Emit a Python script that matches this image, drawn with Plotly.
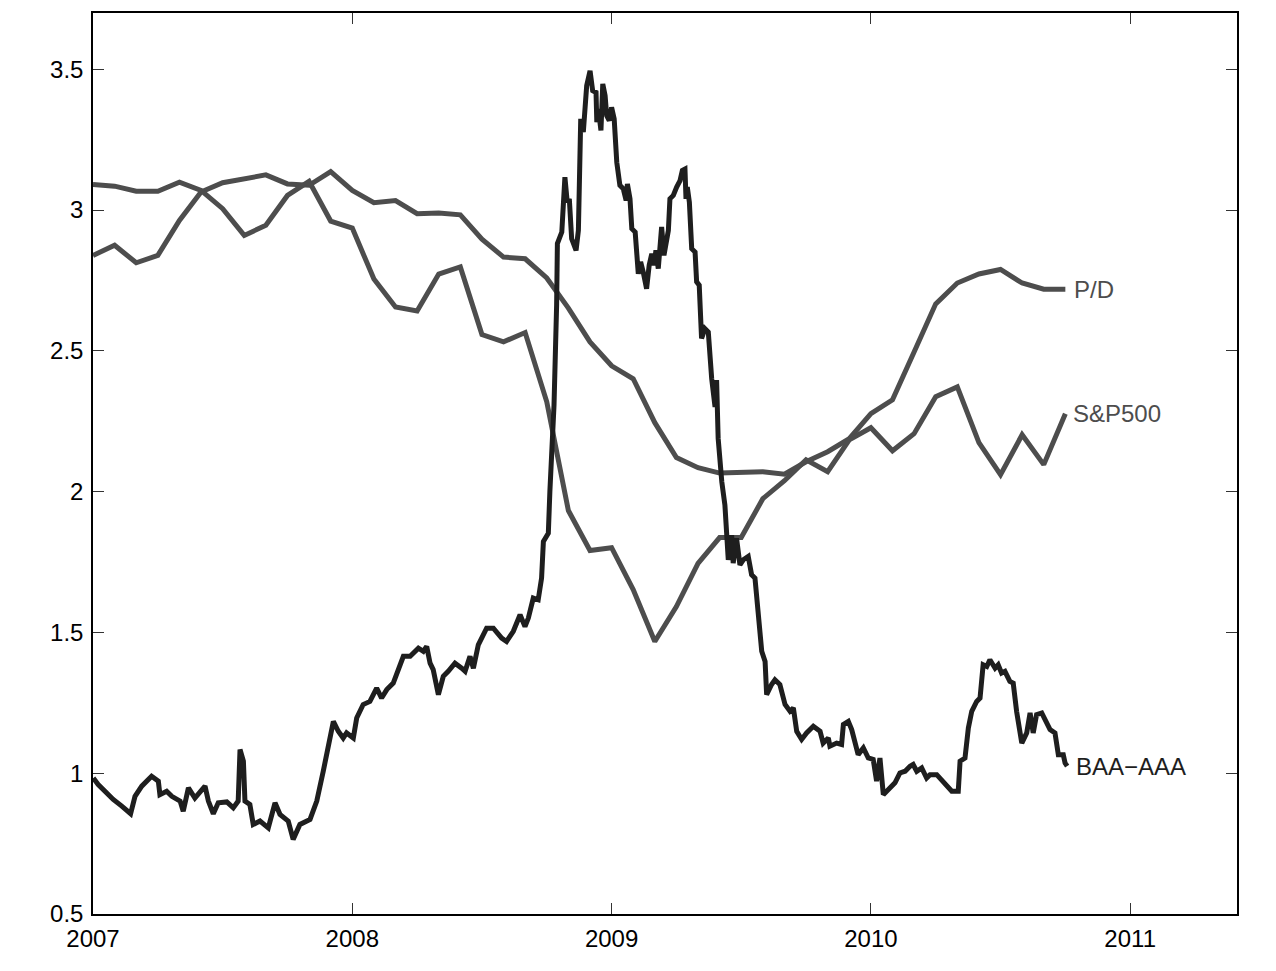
import plotly.graph_objects as go

# Monthly series (Jan 2007 .. Oct 2010)
months_n = 46
pd_ratio = [2.839, 2.875, 2.813, 2.839, 2.963, 3.064, 3.097, 3.111, 3.125, 3.093,
            3.088, 3.137, 3.070, 3.026, 3.034, 2.987, 2.990, 2.983, 2.897, 2.833,
            2.827, 2.759, 2.652, 2.532, 2.447, 2.401, 2.245, 2.121, 2.085, 2.066,
            2.067, 2.071, 2.062, 2.106, 2.142, 2.188, 2.277, 2.326, 2.496, 2.667,
            2.741, 2.773, 2.789, 2.741, 2.719, 2.719]
sp500 = [3.091, 3.085, 3.067, 3.067, 3.099, 3.070, 3.005, 2.910, 2.946, 3.052,
         3.102, 2.961, 2.936, 2.755, 2.656, 2.642, 2.773, 2.798, 2.558, 2.532,
         2.565, 2.319, 1.933, 1.791, 1.801, 1.652, 1.468, 1.592, 1.745, 1.837,
         1.837, 1.975, 2.039, 2.113, 2.071, 2.184, 2.227, 2.145, 2.206, 2.337,
         2.372, 2.174, 2.060, 2.202, 2.096, 2.277]
month_t = [2007 + i / 12 for i in range(months_n)]

# BAA-AAA spread (years since start of 2007, value)
baa_off = [0.001, 0.020, 0.053, 0.078, 0.111, 0.145, 0.162, 0.188, 0.226, 0.252,
           0.258, 0.284, 0.304, 0.336, 0.348, 0.368, 0.393, 0.432, 0.445, 0.464,
           0.483, 0.516, 0.541, 0.560, 0.567, 0.580, 0.586, 0.605, 0.618, 0.644,
           0.676, 0.702, 0.721, 0.753, 0.772, 0.798, 0.837, 0.863, 0.888, 0.907,
           0.927, 0.946, 0.965, 0.978, 1.004, 1.017, 1.042, 1.068, 1.094, 1.113,
           1.133, 1.158, 1.184, 1.197, 1.223, 1.255, 1.274, 1.287, 1.300, 1.312,
           1.332, 1.351, 1.370, 1.396, 1.422, 1.435, 1.454, 1.467, 1.486, 1.518,
           1.544, 1.576, 1.595, 1.621, 1.647, 1.666, 1.679, 1.698, 1.717, 1.730,
           1.737, 1.756, 1.762, 1.775, 1.778, 1.788, 1.791, 1.808, 1.814, 1.820,
           1.829, 1.837, 1.846, 1.863, 1.872, 1.881, 1.891, 1.897, 1.904, 1.917,
           1.927, 1.940, 1.943, 1.949, 1.959, 1.966, 1.975, 1.981, 1.991, 2.000,
           2.010, 2.020, 2.032, 2.045, 2.056, 2.061, 2.071, 2.078, 2.091, 2.103,
           2.112, 2.122, 2.135, 2.145, 2.155, 2.164, 2.171, 2.180, 2.193, 2.202,
           2.219, 2.225, 2.238, 2.251, 2.264, 2.273, 2.283, 2.287, 2.292, 2.300,
           2.309, 2.322, 2.328, 2.338, 2.347, 2.360, 2.373, 2.386, 2.399, 2.405,
           2.411, 2.425, 2.437, 2.450, 2.463, 2.469, 2.482, 2.495, 2.508, 2.527,
           2.540, 2.553, 2.566, 2.579, 2.592, 2.598, 2.617, 2.630, 2.649, 2.669,
           2.688, 2.701, 2.714, 2.733, 2.752, 2.778, 2.804, 2.816, 2.836, 2.842,
           2.868, 2.887, 2.894, 2.913, 2.926, 2.939, 2.951, 2.971, 2.990, 3.009,
           3.022, 3.035, 3.048, 3.061, 3.074, 3.093, 3.112, 3.132, 3.151, 3.163,
           3.177, 3.196, 3.215, 3.228, 3.254, 3.279, 3.292, 3.312, 3.337, 3.344,
           3.363, 3.376, 3.389, 3.408, 3.421, 3.433, 3.447, 3.459, 3.479, 3.491,
           3.504, 3.517, 3.536, 3.549, 3.562, 3.582, 3.601, 3.614, 3.626, 3.639,
           3.659, 3.678, 3.691, 3.710, 3.723, 3.742, 3.749, 3.757]
baa_aaa = [0.983, 0.960, 0.930, 0.907, 0.883, 0.856, 0.918, 0.954, 0.989, 0.972,
           0.924, 0.936, 0.918, 0.901, 0.865, 0.948, 0.912, 0.954, 0.901, 0.856,
           0.895, 0.898, 0.877, 0.901, 1.084, 1.043, 0.901, 0.889, 0.818, 0.830,
           0.806, 0.895, 0.854, 0.830, 0.765, 0.818, 0.836, 0.901, 1.007, 1.102,
           1.184, 1.149, 1.125, 1.143, 1.125, 1.196, 1.244, 1.255, 1.302, 1.267,
           1.297, 1.320, 1.379, 1.415, 1.415, 1.444, 1.433, 1.450, 1.391, 1.368,
           1.279, 1.344, 1.362, 1.391, 1.373, 1.362, 1.415, 1.373, 1.456, 1.515,
           1.515, 1.480, 1.468, 1.504, 1.563, 1.521, 1.551, 1.622, 1.616, 1.693,
           1.823, 1.852, 2.000, 2.213, 2.307, 2.662, 2.881, 2.922, 3.064, 3.117,
           3.028, 3.040, 2.898, 2.857, 2.928, 3.324, 3.277, 3.336, 3.442, 3.495,
           3.424, 3.418, 3.312, 3.359, 3.283, 3.448, 3.407, 3.336, 3.318, 3.365,
           3.324, 3.170, 3.088, 3.076, 3.034, 3.093, 3.040, 2.934, 2.922, 2.774,
           2.816, 2.780, 2.721, 2.804, 2.845, 2.804, 2.857, 2.792, 2.940, 2.839,
           2.928, 3.040, 3.052, 3.082, 3.105, 3.141, 3.146, 3.040, 3.082, 3.028,
           2.863, 2.851, 2.745, 2.733, 2.544, 2.579, 2.567, 2.402, 2.301, 2.396,
           2.189, 2.035, 1.953, 1.758, 1.846, 1.746, 1.834, 1.740, 1.758, 1.770,
           1.705, 1.693, 1.574, 1.433, 1.397, 1.279, 1.315, 1.332, 1.315, 1.244,
           1.220, 1.232, 1.149, 1.120, 1.143, 1.167, 1.149, 1.107, 1.125, 1.096,
           1.107, 1.102, 1.173, 1.184, 1.155, 1.102, 1.066, 1.090, 1.054, 1.049,
           0.972, 1.054, 0.924, 0.936, 0.948, 0.966, 1.001, 1.007, 1.025, 1.031,
           1.007, 1.019, 0.983, 0.995, 0.995, 0.972, 0.954, 0.936, 0.936, 1.043,
           1.054, 1.161, 1.220, 1.255, 1.267, 1.385, 1.379, 1.403, 1.373, 1.385,
           1.356, 1.362, 1.326, 1.320, 1.220, 1.107, 1.143, 1.214, 1.143, 1.208,
           1.214, 1.184, 1.155, 1.143, 1.066, 1.066, 1.036, 1.025]
baa_t = [2007 + v for v in baa_off]

x_ticks = [2007, 2008, 2009, 2010, 2011]
y_ticks = [0.5, 1, 1.5, 2, 2.5, 3, 3.5]
y_ticktext = ["0.5", "1", "1.5", "2", "2.5", "3", "3.5"]

GRAY = "#4d4d4d"
DARK = "#1e1e1e"
FONT = "Liberation Sans, Arial, Helvetica, sans-serif"

fig = go.Figure()
fig.add_trace(go.Scatter(x=month_t, y=pd_ratio, mode="lines",
                         line=dict(color=GRAY, width=5), name="P/D"))
fig.add_trace(go.Scatter(x=month_t, y=sp500, mode="lines",
                         line=dict(color=GRAY, width=5), name="S&P500"))
fig.add_trace(go.Scatter(x=baa_t, y=baa_aaa, mode="lines",
                         line=dict(color=DARK, width=5), name="BAA-AAA"))

labels = [("P/D", month_t[-1], pd_ratio[-1], GRAY, 7),
          ("S&P500", month_t[-1], sp500[-1], GRAY, 6),
          ("BAA\u2212AAA", baa_t[-1], baa_aaa[-1], DARK, 7)]
for txt, xx, yy, col, sh in labels:
    fig.add_annotation(x=xx, y=yy, text=txt, showarrow=False, xanchor="left",
                       yanchor="middle", xshift=sh,
                       font=dict(family=FONT, size=24, color=col))

axis_common = dict(showgrid=False, zeroline=False, showline=True,
                   linecolor="black", linewidth=1.5, mirror="ticks",
                   ticks="inside", ticklen=11, tickwidth=1, tickcolor="#333333",
                   tickfont=dict(family=FONT, size=24, color="black"))

fig.update_xaxes(range=[2007, 2011.412], tickmode="array", tickvals=x_ticks,
                 ticktext=[str(v) for v in x_ticks], ticklabelstandoff=2,
                 **axis_common)
fig.update_yaxes(range=[0.5, 3.7], tickmode="array", tickvals=y_ticks,
                 ticktext=y_ticktext, ticklabelstandoff=3, **axis_common)

fig.update_layout(width=1276, height=971,
                  margin=dict(l=93, r=39, t=11, b=57),
                  plot_bgcolor="white", paper_bgcolor="white",
                  showlegend=False,
                  font=dict(family=FONT, size=24, color="black"))

fig.write_html("out.html")
